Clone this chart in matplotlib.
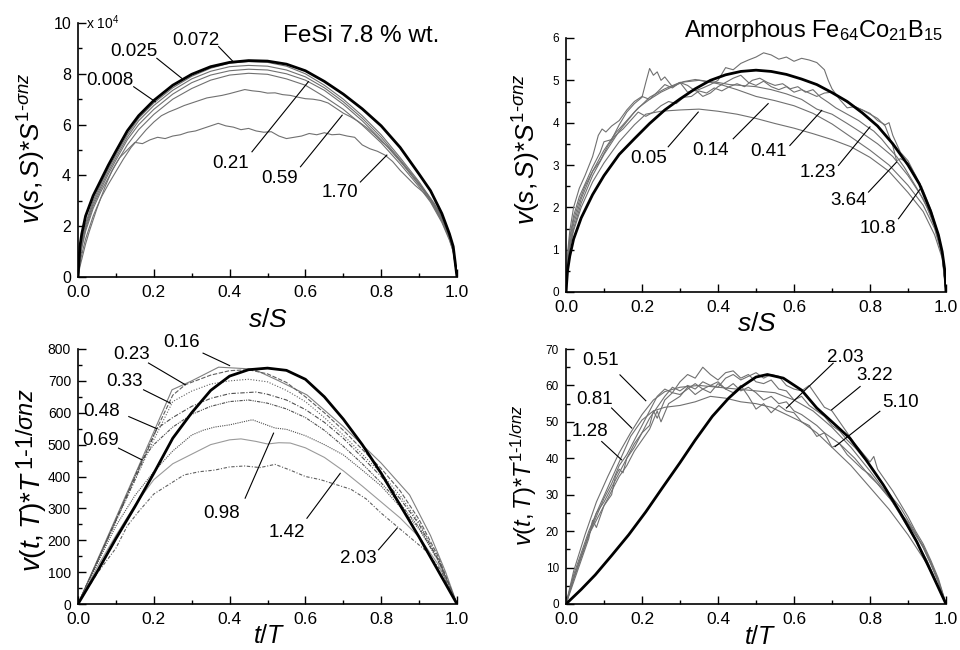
import matplotlib
matplotlib.use('Agg')
from matplotlib import pyplot as plt
from matplotlib.ticker import MultipleLocator, FormatStrFormatter

plt.rcParams['font.family'] = 'Liberation Sans'
plt.rcParams['mathtext.fontset'] = 'custom'
plt.rcParams['mathtext.rm'] = 'Liberation Sans'
plt.rcParams['mathtext.it'] = 'Liberation Sans:italic'

# ---------------- data ----------------
# top left: FeSi, v(s,S)*S^(1-sigma nz) / 1e4 against s/S
s_grid = [0, 0.005, 0.01, 0.02, 0.04, 0.06, 0.08, 0.1, 0.13, 0.16,
          0.2, 0.25, 0.3, 0.35, 0.4, 0.45, 0.5, 0.55, 0.6, 0.65,
          0.7, 0.75, 0.8, 0.85, 0.9, 0.93, 0.96, 0.98, 0.99, 1.0]
fesi_s_theory = [0, 1.2, 1.7, 2.4, 3.2, 3.8, 4.4, 4.95, 5.75, 6.35,
                 6.95, 7.55, 7.98, 8.28, 8.45, 8.52, 8.5, 8.38, 8.12, 7.7,
                 7.2, 6.62, 5.95, 5.1, 4.05, 3.4, 2.5, 1.7, 1.2, 0]
fesi_s_072 = [0, 0.9, 1.4, 2.1, 3.0, 3.65, 4.25, 4.8, 5.6, 6.25,
              6.85, 7.45, 7.9, 8.22, 8.42, 8.48, 8.45, 8.3, 8.0, 7.55,
              7.0, 6.35, 5.6, 4.7, 3.75, 3.1, 2.3, 1.6, 1.1, 0]
fesi_s_025 = [0, 0.8, 1.3, 2.0, 2.9, 3.55, 4.15, 4.7, 5.5, 6.15,
              6.75, 7.35, 7.8, 8.1, 8.28, 8.33, 8.3, 8.15, 7.88, 7.45,
              6.9, 6.25, 5.5, 4.62, 3.7, 3.05, 2.25, 1.55, 1.05, 0]
fesi_s_008 = [0, 0.7, 1.2, 1.9, 2.8, 3.45, 4.05, 4.6, 5.4, 6.0,
              6.6, 7.2, 7.65, 7.95, 8.12, 8.18, 8.15, 8.0, 7.75, 7.35,
              6.8, 6.15, 5.4, 4.55, 3.65, 3.0, 2.2, 1.5, 1.0, 0]
fesi_s_021 = [0, 0.7, 1.15, 1.8, 2.7, 3.35, 3.9, 4.45, 5.2, 5.8,
              6.4, 7.0, 7.42, 7.75, 7.95, 8.02, 7.98, 7.8, 7.55, 7.1,
              6.6, 5.98, 5.28, 4.45, 3.55, 2.95, 2.15, 1.45, 1.0, 0]
fesi_s_059 = [(0, 0), (0.005, 0.5), (0.01, 0.9), (0.02, 1.5), (0.04, 2.4), (0.06, 3.1),
              (0.08, 3.65), (0.1, 4.15), (0.12, 4.65), (0.14, 5.1), (0.16, 5.45), (0.18, 5.8),
              (0.2, 6.1), (0.22, 6.35), (0.24, 6.5), (0.26, 6.62), (0.28, 6.75), (0.3, 6.85),
              (0.32, 6.95), (0.34, 7.05), (0.36, 7.1), (0.38, 7.15), (0.4, 7.22), (0.42, 7.3),
              (0.44, 7.38), (0.46, 7.33), (0.48, 7.3), (0.5, 7.24), (0.52, 7.25), (0.54, 7.18),
              (0.56, 7.15), (0.58, 7.08), (0.6, 7.02), (0.62, 7.0), (0.64, 6.95), (0.66, 6.85),
              (0.68, 6.65), (0.7, 6.45), (0.72, 6.3), (0.74, 6.12), (0.76, 5.9), (0.78, 5.65),
              (0.8, 5.35), (0.82, 5.1), (0.84, 4.75), (0.86, 4.4), (0.88, 4.0), (0.9, 3.62),
              (0.92, 3.3), (0.94, 2.9), (0.96, 2.3), (0.98, 1.55), (0.99, 1.05), (1, 0)]
fesi_s_170 = [(0, 0), (0.005, 0.4), (0.01, 0.7), (0.02, 1.3), (0.03, 1.8), (0.05, 2.7),
              (0.07, 3.5), (0.09, 4.2), (0.11, 4.7), (0.13, 5.0), (0.15, 5.3), (0.17, 5.25),
              (0.19, 5.4), (0.21, 5.5), (0.23, 5.45), (0.25, 5.55), (0.27, 5.6), (0.29, 5.7),
              (0.31, 5.75), (0.33, 5.85), (0.35, 5.95), (0.37, 6.05), (0.39, 5.95), (0.41, 5.9),
              (0.43, 5.8), (0.45, 5.85), (0.47, 5.75), (0.49, 5.7), (0.51, 5.72), (0.53, 5.55),
              (0.55, 5.45), (0.57, 5.5), (0.59, 5.55), (0.61, 5.65), (0.63, 5.6), (0.65, 5.68),
              (0.67, 5.6), (0.69, 5.62), (0.71, 5.55), (0.73, 5.5), (0.75, 5.2), (0.77, 5.05),
              (0.79, 4.95), (0.81, 4.8), (0.83, 4.55), (0.85, 4.2), (0.87, 3.9), (0.89, 3.6),
              (0.91, 3.35), (0.93, 3.05), (0.95, 2.65), (0.97, 2.1), (0.99, 1.2), (1, 0)]

# top right: amorphous FeCoB, v(s,S)*S^(1-sigma nz) against s/S
amo_s_theory = [(0, 0), (0.004, 0.5), (0.01, 0.85), (0.02, 1.25), (0.04, 1.75), (0.07, 2.3),
                (0.1, 2.75), (0.14, 3.25), (0.18, 3.62), (0.22, 3.98), (0.26, 4.3), (0.3, 4.56),
                (0.34, 4.8), (0.38, 5.0), (0.42, 5.13), (0.46, 5.21), (0.5, 5.24), (0.54, 5.21),
                (0.58, 5.14), (0.62, 5.03), (0.66, 4.9), (0.7, 4.71), (0.74, 4.5), (0.78, 4.23),
                (0.82, 3.92), (0.86, 3.5), (0.9, 3.0), (0.93, 2.55), (0.96, 1.9), (0.98, 1.35),
                (0.99, 0.95), (0.997, 0.5), (1, 0)]
amo_s_005 = [(0, 0), (0.005, 0.7), (0.01, 1.05), (0.02, 1.45), (0.04, 2.0), (0.07, 2.6),
             (0.1, 3.05), (0.14, 3.55), (0.18, 3.95), (0.21, 4.2), (0.25, 4.27), (0.3, 4.3),
             (0.35, 4.32), (0.4, 4.27), (0.45, 4.2), (0.5, 4.1), (0.55, 3.98), (0.6, 3.87),
             (0.65, 3.74), (0.7, 3.6), (0.75, 3.43), (0.8, 3.18), (0.85, 2.85), (0.9, 2.35),
             (0.94, 1.9), (0.97, 1.35), (0.99, 0.8), (1, 0)]
amo_s_014 = [(0, 0), (0.005, 0.75), (0.01, 1.1), (0.02, 1.5), (0.04, 2.1), (0.07, 2.75),
             (0.1, 3.25), (0.14, 3.8), (0.18, 4.25), (0.22, 4.6), (0.26, 4.8), (0.3, 4.95),
             (0.35, 5.0), (0.4, 4.92), (0.45, 4.78), (0.5, 4.62), (0.55, 4.52), (0.6, 4.4),
             (0.65, 4.22), (0.7, 3.97), (0.75, 3.66), (0.8, 3.35), (0.85, 3.0), (0.9, 2.52),
             (0.94, 2.05), (0.97, 1.5), (0.99, 0.85), (1, 0)]
amo_s_041 = [(0, 0), (0.005, 0.8), (0.01, 1.15), (0.02, 1.6), (0.04, 2.2), (0.07, 2.85),
             (0.1, 3.35), (0.13, 3.75), (0.16, 4.05), (0.19, 4.35), (0.22, 4.55), (0.25, 4.72),
             (0.28, 4.85), (0.31, 4.97), (0.34, 5.02), (0.37, 4.98), (0.4, 4.95), (0.43, 4.9),
             (0.46, 4.88), (0.5, 4.85), (0.54, 4.78), (0.58, 4.68), (0.62, 4.55), (0.66, 4.32),
             (0.7, 4.2), (0.74, 3.98), (0.78, 3.75), (0.82, 3.5), (0.86, 3.2), (0.9, 2.75),
             (0.94, 2.2), (0.97, 1.6), (0.99, 0.9), (1, 0)]
amo_s_123 = [(0, 0), (0.005, 0.85), (0.01, 1.25), (0.02, 1.7), (0.035, 2.15), (0.05, 2.5),
             (0.07, 2.85), (0.09, 3.1), (0.11, 3.45), (0.13, 3.7), (0.15, 3.85), (0.17, 4.05),
             (0.19, 4.25), (0.21, 4.15), (0.23, 4.25), (0.25, 4.4), (0.27, 4.5), (0.29, 4.45),
             (0.31, 4.6), (0.33, 4.62), (0.35, 4.75), (0.37, 4.7), (0.39, 4.82), (0.41, 4.75),
             (0.43, 4.85), (0.45, 4.92), (0.47, 4.85), (0.49, 5.0), (0.51, 5.05), (0.53, 4.95),
             (0.55, 4.88), (0.57, 4.92), (0.59, 4.8), (0.61, 4.85), (0.63, 4.72), (0.65, 4.78),
             (0.67, 4.6), (0.69, 4.48), (0.71, 4.35), (0.73, 4.25), (0.75, 4.15), (0.77, 4.05),
             (0.79, 3.92), (0.81, 3.8), (0.83, 3.62), (0.85, 3.4), (0.87, 3.2), (0.89, 2.95),
             (0.91, 2.65), (0.93, 2.35), (0.95, 2.0), (0.97, 1.55), (0.99, 0.9), (1, 0)]
amo_s_364 = [(0, 0), (0.005, 0.9), (0.01, 1.3), (0.02, 1.8), (0.035, 2.25), (0.05, 2.55),
             (0.07, 2.95), (0.09, 3.3), (0.1, 3.55), (0.12, 3.6), (0.14, 3.95), (0.16, 4.25),
             (0.18, 4.45), (0.2, 4.6), (0.21, 4.95), (0.22, 5.28), (0.23, 5.12), (0.24, 5.2),
             (0.25, 5.0), (0.26, 5.08), (0.28, 4.85), (0.3, 4.95), (0.32, 4.72), (0.34, 4.78),
             (0.36, 4.62), (0.38, 4.7), (0.4, 4.85), (0.42, 4.95), (0.44, 5.05), (0.46, 5.12),
             (0.48, 4.95), (0.5, 4.88), (0.52, 4.98), (0.54, 4.85), (0.56, 4.78), (0.58, 4.85),
             (0.6, 4.72), (0.62, 4.78), (0.64, 4.7), (0.66, 4.62), (0.68, 4.7), (0.7, 4.72),
             (0.72, 4.6), (0.74, 4.48), (0.76, 4.38), (0.78, 4.3), (0.8, 4.2), (0.82, 4.1),
             (0.84, 3.92), (0.86, 3.45), (0.87, 3.1), (0.88, 3.15), (0.9, 3.05), (0.92, 2.75),
             (0.94, 2.35), (0.96, 1.9), (0.98, 1.3), (0.99, 0.9), (1, 0)]
amo_s_108 = [(0, 0), (0.005, 1.0), (0.01, 1.45), (0.02, 2.0), (0.035, 2.45), (0.05, 2.75),
             (0.07, 3.2), (0.085, 3.7), (0.095, 3.85), (0.105, 3.78), (0.12, 3.92), (0.14, 4.05),
             (0.16, 4.3), (0.18, 4.5), (0.2, 4.62), (0.22, 4.55), (0.24, 4.72), (0.26, 4.9),
             (0.28, 4.82), (0.3, 4.95), (0.32, 4.88), (0.34, 4.75), (0.36, 4.82), (0.38, 4.9),
             (0.4, 5.0), (0.42, 5.3), (0.44, 5.25), (0.46, 5.4), (0.48, 5.48), (0.5, 5.55),
             (0.52, 5.65), (0.54, 5.6), (0.56, 5.5), (0.58, 5.55), (0.6, 5.45), (0.62, 5.52),
             (0.64, 5.48), (0.66, 5.42), (0.68, 5.25), (0.69, 5.0), (0.7, 4.8), (0.72, 4.55),
             (0.74, 4.35), (0.76, 4.38), (0.78, 4.3), (0.8, 4.22), (0.82, 4.05), (0.84, 3.95),
             (0.85, 4.0), (0.86, 3.7), (0.88, 3.3), (0.9, 3.1), (0.92, 2.75), (0.94, 2.4),
             (0.96, 1.95), (0.98, 1.35), (0.99, 0.95), (1, 0)]

# bottom left: FeSi, v(t,T)*T^(1-1/sigma nz) against t/T
fesi_t_theory = [(0, 0), (0.05, 100), (0.1, 205), (0.15, 305), (0.2, 410), (0.25, 520),
                 (0.3, 600), (0.35, 670), (0.4, 715), (0.45, 735), (0.5, 740), (0.55, 733),
                 (0.6, 705), (0.65, 650), (0.7, 580), (0.75, 500), (0.8, 410), (0.85, 310),
                 (0.9, 210), (0.95, 105), (1, 0)]
fesi_t_016 = [(0, 0), (0.05, 135), (0.1, 270), (0.15, 405), (0.2, 540), (0.248, 672),
              (0.3, 700), (0.371, 743), (0.463, 737), (0.53, 700), (0.604, 656), (0.7, 557),
              (0.8, 442), (0.875, 342), (0.93, 215), (0.97, 100), (1, 0)]
fesi_t_023 = [(0, 0), (0.05, 132), (0.1, 265), (0.15, 398), (0.2, 530), (0.25, 655),
              (0.283, 688), (0.35, 718), (0.4, 732), (0.45, 735), (0.5, 722), (0.55, 695),
              (0.6, 650), (0.65, 600), (0.7, 545), (0.75, 485), (0.8, 425), (0.85, 355),
              (0.9, 265), (0.95, 150), (1, 0)]
fesi_t_033 = [(0, 0), (0.05, 130), (0.1, 258), (0.15, 387), (0.2, 515), (0.25, 635),
              (0.3, 668), (0.35, 690), (0.4, 700), (0.45, 705), (0.5, 697), (0.55, 670),
              (0.6, 635), (0.65, 585), (0.7, 530), (0.75, 470), (0.8, 410), (0.85, 340),
              (0.9, 255), (0.95, 145), (1, 0)]
fesi_t_048 = [(0, 0), (0.05, 130), (0.1, 262), (0.15, 390), (0.208, 550), (0.25, 585),
              (0.3, 620), (0.35, 645), (0.4, 660), (0.47, 665), (0.5, 658), (0.55, 640),
              (0.6, 610), (0.65, 570), (0.7, 520), (0.75, 460), (0.8, 400), (0.85, 330),
              (0.9, 250), (0.95, 140), (1, 0)]
fesi_t_069 = [(0, 0), (0.05, 130), (0.1, 262), (0.169, 452), (0.2, 500), (0.25, 555),
              (0.3, 595), (0.35, 620), (0.4, 635), (0.45, 640), (0.5, 630), (0.55, 612),
              (0.6, 585), (0.65, 545), (0.7, 495), (0.75, 440), (0.8, 380), (0.85, 315),
              (0.9, 240), (0.95, 135), (1, 0)]
fesi_t_098 = [(0, 0), (0.05, 125), (0.1, 245), (0.15, 340), (0.2, 415), (0.25, 480),
              (0.3, 530), (0.33, 545), (0.36, 555), (0.4, 562), (0.43, 570), (0.46, 578),
              (0.49, 565), (0.52, 552), (0.55, 548), (0.6, 528), (0.65, 500), (0.7, 468),
              (0.75, 420), (0.8, 370), (0.85, 305), (0.9, 235), (0.95, 140), (1, 0)]
fesi_t_142 = [(0, 0), (0.05, 115), (0.1, 215), (0.15, 310), (0.2, 390), (0.25, 440),
              (0.3, 470), (0.35, 500), (0.4, 515), (0.43, 518), (0.47, 510), (0.5, 502),
              (0.53, 506), (0.56, 505), (0.6, 490), (0.65, 460), (0.7, 418), (0.75, 370),
              (0.8, 320), (0.85, 270), (0.9, 210), (0.95, 125), (1, 0)]
fesi_t_203 = [(0, 0), (0.05, 95), (0.1, 175), (0.13, 245), (0.16, 290), (0.2, 345),
              (0.24, 375), (0.28, 405), (0.32, 415), (0.36, 420), (0.4, 430), (0.44, 433),
              (0.48, 428), (0.52, 438), (0.56, 420), (0.6, 400), (0.64, 390), (0.68, 375),
              (0.72, 360), (0.76, 330), (0.8, 285), (0.84, 245), (0.88, 205), (0.92, 165),
              (0.96, 100), (1, 0)]

# bottom right: amorphous FeCoB, v(t,T)*T^(1-1/sigma nz) against t/T
amo_t_theory = [(0, 0), (0.04, 4), (0.077, 8), (0.12, 13.3), (0.165, 19), (0.21, 25.3),
                (0.253, 31.8), (0.3, 38.8), (0.34, 45), (0.385, 51.5), (0.428, 56.5), (0.46, 59.5),
                (0.5, 62.3), (0.53, 63), (0.572, 62), (0.62, 58.7), (0.66, 53.8), (0.7, 50),
                (0.747, 45.5), (0.79, 39.5), (0.835, 32.7), (0.88, 25), (0.923, 17.1),
                (0.96, 9), (1, 0)]
amo_t_051 = [(0, 0), (0.02, 9), (0.05, 19), (0.08, 28), (0.11, 35), (0.14, 41.5),
             (0.17, 47), (0.2, 52), (0.23, 56), (0.26, 58.3), (0.3, 59.5), (0.35, 60),
             (0.4, 59.5), (0.45, 59), (0.5, 58.5), (0.55, 58), (0.6, 56), (0.65, 53),
             (0.7, 48.5), (0.75, 43), (0.8, 36.5), (0.85, 29.5), (0.9, 21), (0.95, 12), (1, 0)]
amo_t_081 = [(0, 0), (0.02, 7), (0.05, 16), (0.08, 25), (0.11, 32), (0.14, 39),
             (0.17, 46), (0.2, 50.5), (0.23, 53), (0.26, 54), (0.3, 54.5), (0.34, 55.5),
             (0.38, 57), (0.42, 56.5), (0.46, 55.5), (0.5, 55), (0.54, 54), (0.58, 52),
             (0.62, 50), (0.66, 47), (0.7, 43), (0.75, 38), (0.8, 32), (0.85, 26),
             (0.9, 19), (0.95, 11), (1, 0)]
amo_t_128 = [(0, 0), (0.02, 6), (0.04, 12), (0.06, 18), (0.07, 23), (0.08, 21), (0.1, 27),
             (0.12, 30), (0.13, 35), (0.14, 37), (0.15, 36), (0.16, 40), (0.18, 43), (0.2, 47),
             (0.22, 49), (0.23, 53), (0.24, 51), (0.26, 56), (0.28, 58), (0.3, 57.5), (0.32, 59),
             (0.34, 60.5), (0.36, 59), (0.38, 60), (0.4, 61), (0.42, 59), (0.44, 60.5),
             (0.46, 58.5), (0.48, 59.5), (0.5, 58), (0.52, 56), (0.54, 57), (0.56, 55),
             (0.58, 55.5), (0.6, 53), (0.62, 52), (0.64, 50.5), (0.66, 49), (0.68, 47),
             (0.7, 45.5), (0.72, 44), (0.74, 42), (0.76, 40), (0.78, 37.5), (0.8, 35),
             (0.82, 33), (0.84, 30.5), (0.86, 28), (0.88, 25), (0.9, 22), (0.92, 19),
             (0.94, 16), (0.96, 11.5), (0.98, 6.5), (1, 0)]
amo_t_203 = [(0, 0), (0.02, 7), (0.04, 13), (0.06, 19), (0.08, 24), (0.1, 29), (0.12, 33),
             (0.14, 38), (0.16, 41), (0.18, 45), (0.2, 49), (0.22, 53), (0.24, 57), (0.26, 59),
             (0.28, 58), (0.3, 61), (0.32, 63), (0.34, 62), (0.36, 65), (0.38, 63), (0.4, 61.5),
             (0.42, 63.5), (0.44, 64), (0.46, 62), (0.48, 63), (0.5, 61), (0.52, 60.5),
             (0.54, 61.5), (0.56, 59), (0.58, 58.5), (0.6, 56), (0.62, 57), (0.64, 54.5),
             (0.66, 53), (0.68, 51.5), (0.7, 49), (0.72, 47.5), (0.74, 45), (0.76, 43),
             (0.78, 40.5), (0.8, 38), (0.82, 35), (0.84, 32), (0.86, 29), (0.88, 26.5),
             (0.9, 23), (0.92, 19.5), (0.94, 15.5), (0.96, 11), (0.98, 6), (1, 0)]
amo_t_322 = [(0, 0), (0.02, 8), (0.04, 14), (0.06, 20), (0.08, 25), (0.1, 28), (0.12, 32),
             (0.14, 36), (0.16, 40), (0.18, 44), (0.2, 47), (0.22, 51), (0.24, 54), (0.26, 57),
             (0.28, 59.5), (0.3, 58.5), (0.32, 60), (0.34, 59), (0.36, 61), (0.38, 60),
             (0.4, 59.5), (0.42, 62), (0.44, 63), (0.46, 61.5), (0.48, 62.5), (0.5, 63.5),
             (0.52, 62), (0.54, 63), (0.56, 62.5), (0.58, 60), (0.6, 59), (0.62, 58.5),
             (0.64, 60), (0.66, 57), (0.68, 54), (0.7, 53), (0.72, 50), (0.74, 47), (0.76, 44),
             (0.78, 41.5), (0.8, 39), (0.81, 40.5), (0.82, 37), (0.84, 34), (0.86, 31),
             (0.88, 27.5), (0.9, 24), (0.92, 20), (0.94, 16.5), (0.96, 12), (0.98, 7), (1, 0)]
amo_t_510 = [(0, 0), (0.02, 7), (0.04, 13), (0.06, 19), (0.08, 23), (0.1, 27), (0.12, 31),
             (0.14, 35), (0.16, 38), (0.18, 42), (0.2, 45), (0.22, 48), (0.24, 53), (0.25, 50),
             (0.27, 55), (0.3, 57), (0.32, 59.5), (0.34, 57.5), (0.36, 59), (0.38, 58),
             (0.4, 60.5), (0.42, 59), (0.44, 58), (0.46, 60), (0.48, 57), (0.5, 53.5),
             (0.52, 55), (0.54, 52.5), (0.56, 54.5), (0.58, 53), (0.6, 52.5), (0.62, 50),
             (0.64, 49), (0.66, 46), (0.68, 47), (0.7, 43), (0.72, 44), (0.74, 41), (0.76, 39),
             (0.78, 37), (0.8, 35.5), (0.82, 33), (0.84, 30.5), (0.86, 28), (0.88, 25),
             (0.9, 22.5), (0.92, 19), (0.94, 15.5), (0.96, 11), (0.98, 6), (1, 0)]

# curve labels: text, text position, leader line start, leader line end
fesi_s_labels = [('0.072', (0.312, 9.33), (0.371, 9.07), (0.41, 8.47)),
                 ('0.025', (0.147, 8.87), (0.208, 8.61), (0.274, 7.82)),
                 ('0.008', (0.085, 7.75), (0.147, 7.49), (0.204, 6.9)),
                 ('0.21', (0.402, 4.47), (0.459, 4.93), (0.608, 7.69)),
                 ('0.59', (0.532, 3.88), (0.587, 4.34), (0.697, 6.37)),
                 ('1.70', (0.69, 3.31), (0.745, 3.74), (0.815, 4.8))]
amo_s_labels = [('0.05', (0.217, 3.15), (0.269, 3.43), (0.348, 4.25)),
                ('0.14', (0.379, 3.35), (0.44, 3.62), (0.532, 4.45)),
                ('0.41', (0.532, 3.31), (0.589, 3.46), (0.673, 4.29)),
                ('1.23', (0.664, 2.83), (0.717, 2.99), (0.8, 3.9)),
                ('3.64', (0.743, 2.17), (0.796, 2.36), (0.87, 3.07)),
                ('10.8', (0.822, 1.5), (0.875, 1.73), (0.936, 2.48))]
fesi_t_labels = [('0.16', (0.274, 819), (0.33, 787), (0.40, 748)),
                 ('0.23', (0.142, 782), (0.186, 756), (0.283, 688)),
                 ('0.33', (0.122, 698), (0.173, 672), (0.244, 630)),
                 ('0.48', (0.061, 604), (0.134, 588), (0.208, 550)),
                 ('0.69', (0.059, 512), (0.107, 489), (0.169, 452)),
                 ('0.98', (0.38, 285), (0.441, 332), (0.516, 536)),
                 ('1.42', (0.551, 224), (0.604, 269), (0.692, 410)),
                 ('2.03', (0.74, 143), (0.793, 170), (0.842, 238))]
amo_t_labels = [('0.51', (0.091, 66.9), (0.142, 62.9), (0.21, 55.8)),
                ('0.81', (0.076, 56.1), (0.12, 53.8), (0.173, 48.3)),
                ('1.28', (0.063, 47.4), (0.094, 44.6), (0.146, 39.6)),
                ('2.03', (0.734, 67.8), (0.703, 66.1), (0.58, 53.8)),
                ('3.22', (0.813, 62.7), (0.774, 59.7), (0.699, 53.3)),
                ('5.10', (0.881, 55.3), (0.826, 52.9), (0.708, 43.2))]

# ---------------- figure ----------------
W, H = 960, 650
fig = plt.figure(figsize=(W / 100, H / 100), dpi=100)


def axes_px(left, top, right, bottom):
    return fig.add_axes([left / W, 1 - bottom / H, (right - left) / W, (bottom - top) / H])


def style(ax, ymax, ymaj, ymin, ysize):
    ax.set_xlim(0, 1)
    ax.set_ylim(0, ymax)
    ax.spines['top'].set_visible(False)
    ax.spines['right'].set_visible(False)
    ax.spines['left'].set_linewidth(1.2)
    ax.spines['bottom'].set_linewidth(1.2)
    ax.xaxis.set_major_locator(MultipleLocator(0.2))
    ax.xaxis.set_minor_locator(MultipleLocator(0.1))
    ax.xaxis.set_major_formatter(FormatStrFormatter('%.1f'))
    ax.yaxis.set_major_locator(MultipleLocator(ymaj))
    ax.yaxis.set_minor_locator(MultipleLocator(ymin))
    ax.tick_params(which='both', direction='in', width=1.0)
    ax.tick_params(which='major', length=6)
    ax.tick_params(which='minor', length=3)
    ax.tick_params(axis='x', labelsize=12.5, pad=6)
    ax.tick_params(axis='y', labelsize=ysize, pad=5)


def pairs(ax, data, **kw):
    u, v = zip(*data)
    ax.plot(u, v, **kw)


def labels(ax, items):
    for txt, pos, p0, p1 in items:
        ax.plot([p0[0], p1[0]], [p0[1], p1[1]], color='black', lw=0.8, clip_on=False)
        ax.text(pos[0], pos[1], txt, fontsize=13.5, ha='center', va='center')


thin = dict(color='#707070', lw=0.8)
thick = dict(color='black', lw=2.0)

ax1 = axes_px(78, 23, 457, 277)
ax2 = axes_px(566, 38, 946, 292)
ax3 = axes_px(78, 349, 457, 604)
ax4 = axes_px(566, 349, 946, 604)

# top left
style(ax1, 10, 2, 1, 11.5)
for v in [fesi_s_008, fesi_s_025, fesi_s_072, fesi_s_021]:
    ax1.plot(s_grid, v, **thin)
pairs(ax1, fesi_s_059, **thin)
pairs(ax1, fesi_s_170, **thin)
ax1.plot(s_grid, fesi_s_theory, **thick)
labels(ax1, fesi_s_labels)
ax1.text(0.542, 9.26, 'FeSi 7.8 % wt.', fontsize=17.5, ha='left', va='baseline')
ax1.text(0.022, 1.0, r'x 10$^4$', transform=ax1.transAxes, fontsize=10,
         ha='left', va='center')

# top right
style(ax2, 6, 1, 0.5, 8.5)
for d in [amo_s_005, amo_s_014, amo_s_041, amo_s_123, amo_s_364, amo_s_108]:
    pairs(ax2, d, **thin)
pairs(ax2, amo_s_theory, **thick)
labels(ax2, amo_s_labels)
ax2.text(0.31, 6.02, r'Amorphous Fe$_{64}$Co$_{21}$B$_{15}$', fontsize=17,
         ha='left', va='baseline')

# bottom left
style(ax3, 800, 100, 50, 10)
pairs(ax3, fesi_t_016, color='#808080', lw=0.8)
pairs(ax3, fesi_t_023, color='#606060', lw=0.8, ls=(0, (4, 1.5)))
pairs(ax3, fesi_t_033, color='#606060', lw=0.8, ls=(0, (1, 1.5)))
pairs(ax3, fesi_t_048, color='#505050', lw=0.8, ls=(0, (4, 1.5, 1, 1.5)))
pairs(ax3, fesi_t_069, color='#505050', lw=0.8, ls=(0, (3, 1, 1, 1, 1, 1)))
pairs(ax3, fesi_t_098, color='#505050', lw=0.8, ls=(0, (1, 1)))
pairs(ax3, fesi_t_142, color='#9a9a9a', lw=0.8)
pairs(ax3, fesi_t_203, color='#606060', lw=0.8, ls=(0, (3, 1.5, 1, 1.5)))
pairs(ax3, fesi_t_theory, **thick)
labels(ax3, fesi_t_labels)

# bottom right
style(ax4, 70, 10, 5, 8.5)
for d in [amo_t_051, amo_t_081, amo_t_128, amo_t_203, amo_t_322, amo_t_510]:
    pairs(ax4, d, **thin)
pairs(ax4, amo_t_theory, **thick)
labels(ax4, amo_t_labels)

# axis titles
fig.text(268 / W, 1 - 320 / H, '$s/S$', fontsize=19, ha='center', va='center')
fig.text(757 / W, 1 - 324 / H, '$s/S$', fontsize=19, ha='center', va='center')
fig.text(269 / W, 1 - 636 / H, '$t/T$', fontsize=18, ha='center', va='center')
fig.text(760 / W, 1 - 637 / H, '$t/T$', fontsize=18, ha='center', va='center')

ylab_s = r'$v(s,S)$*$S^{1\text{-}\sigma nz}$'
fig.text(32 / W, 1 - 148 / H, ylab_s, rotation=90, fontsize=19, ha='center', va='center')
fig.text(527 / W, 1 - 149 / H, ylab_s, rotation=90, fontsize=19, ha='center', va='center')
fig.text(524 / W, 1 - 475 / H, r'$v(t,T)$*$T^{1\text{-}1/\sigma nz}$', rotation=90,
         fontsize=17, ha='center', va='center')

# bottom left label has a full size exponent
main = fig.text(33 / W, 1 - 572 / H, r'$v(t,T)$*$T$', rotation=90,
                fontsize=20, ha='center', va='bottom')
fig.canvas.draw()
bb = main.get_window_extent()
fig.text(27 / W, (bb.y1 + 1) / H, r'1-1/$\sigma nz$', rotation=90,
         fontsize=17, ha='center', va='bottom')

fig.savefig('out.png', dpi=100)
